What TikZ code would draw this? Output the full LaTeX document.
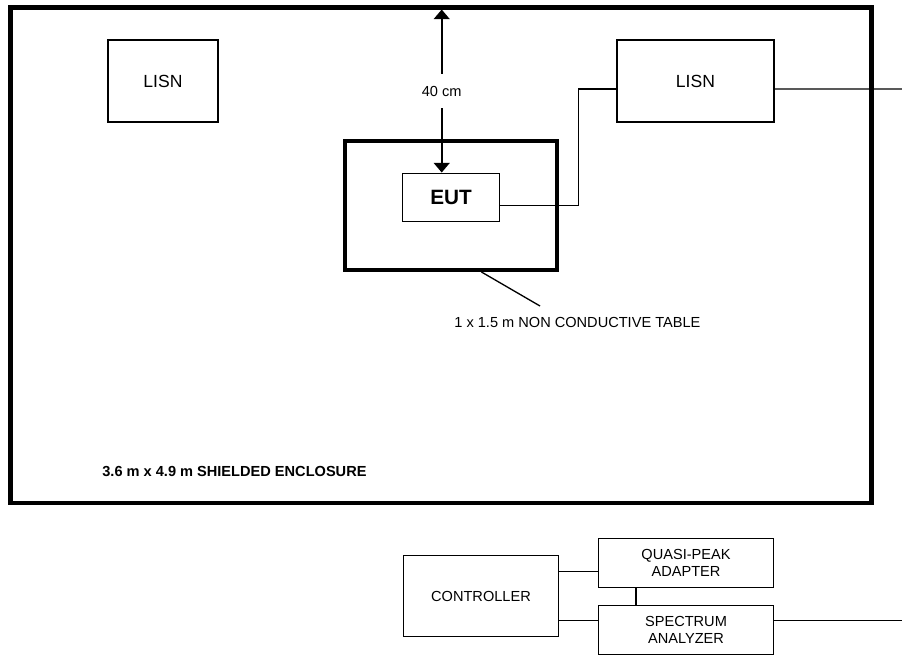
\documentclass[tikz,border=0pt]{standalone}
\usepackage{fontspec}
\setmainfont{Liberation Sans}
\usetikzlibrary{arrows.meta}

\begin{document}
\begin{tikzpicture}[x=0.02cm,y=-0.02cm,
    box/.style={draw,line width=1.1pt,align=center,inner sep=0pt},
    wire/.style={line width=0.75pt},
    small/.style={font=\fontsize{8.3}{10}\selectfont}]

        \useasboundingbox (0,0) rectangle (902,656);

        \node[draw,line width=2.8pt,minimum width=17.24cm,minimum height=9.92cm] (room) at (441,255) {};
        \node[draw,line width=2.3pt,minimum width=4.24cm,minimum height=2.58cm] (table) at (451,205.5) {};

        \begin{scope}[every node/.style={box,font=\fontsize{10}{12}\selectfont}]
          \node[minimum width=2.2cm,minimum height=1.64cm] (llisn) at (163,81) {LISN};
          \node[minimum width=3.14cm,minimum height=1.64cm] (rlisn) at (695.4,81) {LISN};
          \node[minimum width=1.94cm,minimum height=0.96cm,font=\fontsize{11.8}{14}\selectfont\bfseries] (eut) at (451,197.5) {EUT};
        \end{scope}

        \begin{scope}[every node/.style={box,small}]
          \node[minimum width=3.1cm,minimum height=1.62cm] (ctrl) at (481,596) {CONTROLLER};
          \node[minimum width=3.5cm,minimum height=0.98cm] (qp) at (686,563) {QUASI-PEAK\\ADAPTER};
          \node[minimum width=3.5cm,minimum height=0.98cm] (sa) at (686,630) {SPECTRUM\\ANALYZER};
        \end{scope}

        \begin{scope}[every node/.style={small,inner sep=0pt,anchor=west}]
          \node (roomlbl) at (102,471) {\bfseries 3.6 m x 4.9 m SHIELDED ENCLOSURE};
          \node (tbllbl) at (454,322) {1 x 1.5 m NON CONDUCTIVE TABLE};
        \end{scope}

        \coordinate (wall) at (441.7,9.5);
        \coordinate (mains) at (902,89);
        \coordinate (lead) at (540,306);
        \coordinate (qpin) at ([yshift=-0.17cm]qp.west);
        \coordinate (sain) at ([yshift=0.19cm]sa.west);
        \coordinate (saout) at ([yshift=0.19cm]sa.east);

        \draw[line width=1.1pt,{Triangle[length=5.5pt,width=9pt]}-{Triangle[length=5.5pt,width=9pt]}]
          (wall) -- node[small,fill=white,inner xsep=2pt,inner ysep=6.5pt] {40 cm} (wall |- eut.north);

        \begin{scope}[every path/.style={wire}]
          \draw ([yshift=-0.16cm]eut.east) -- ++(78,0) |- ([yshift=-0.16cm]rlisn.west);
          \draw ([yshift=-0.16cm]rlisn.east) -- (mains);
          \draw ([xshift=0.61cm]table.south) -- (lead);
          \draw (qpin) -- (qpin -| ctrl.east);
          \draw (sain) -- (sain -| ctrl.east);
          \draw ([xshift=0.77cm]qp.south west) -- ([xshift=0.77cm]sa.north west);
          \draw (saout) -- (saout -| mains);
        \end{scope}

      \end{tikzpicture}
\end{document}
